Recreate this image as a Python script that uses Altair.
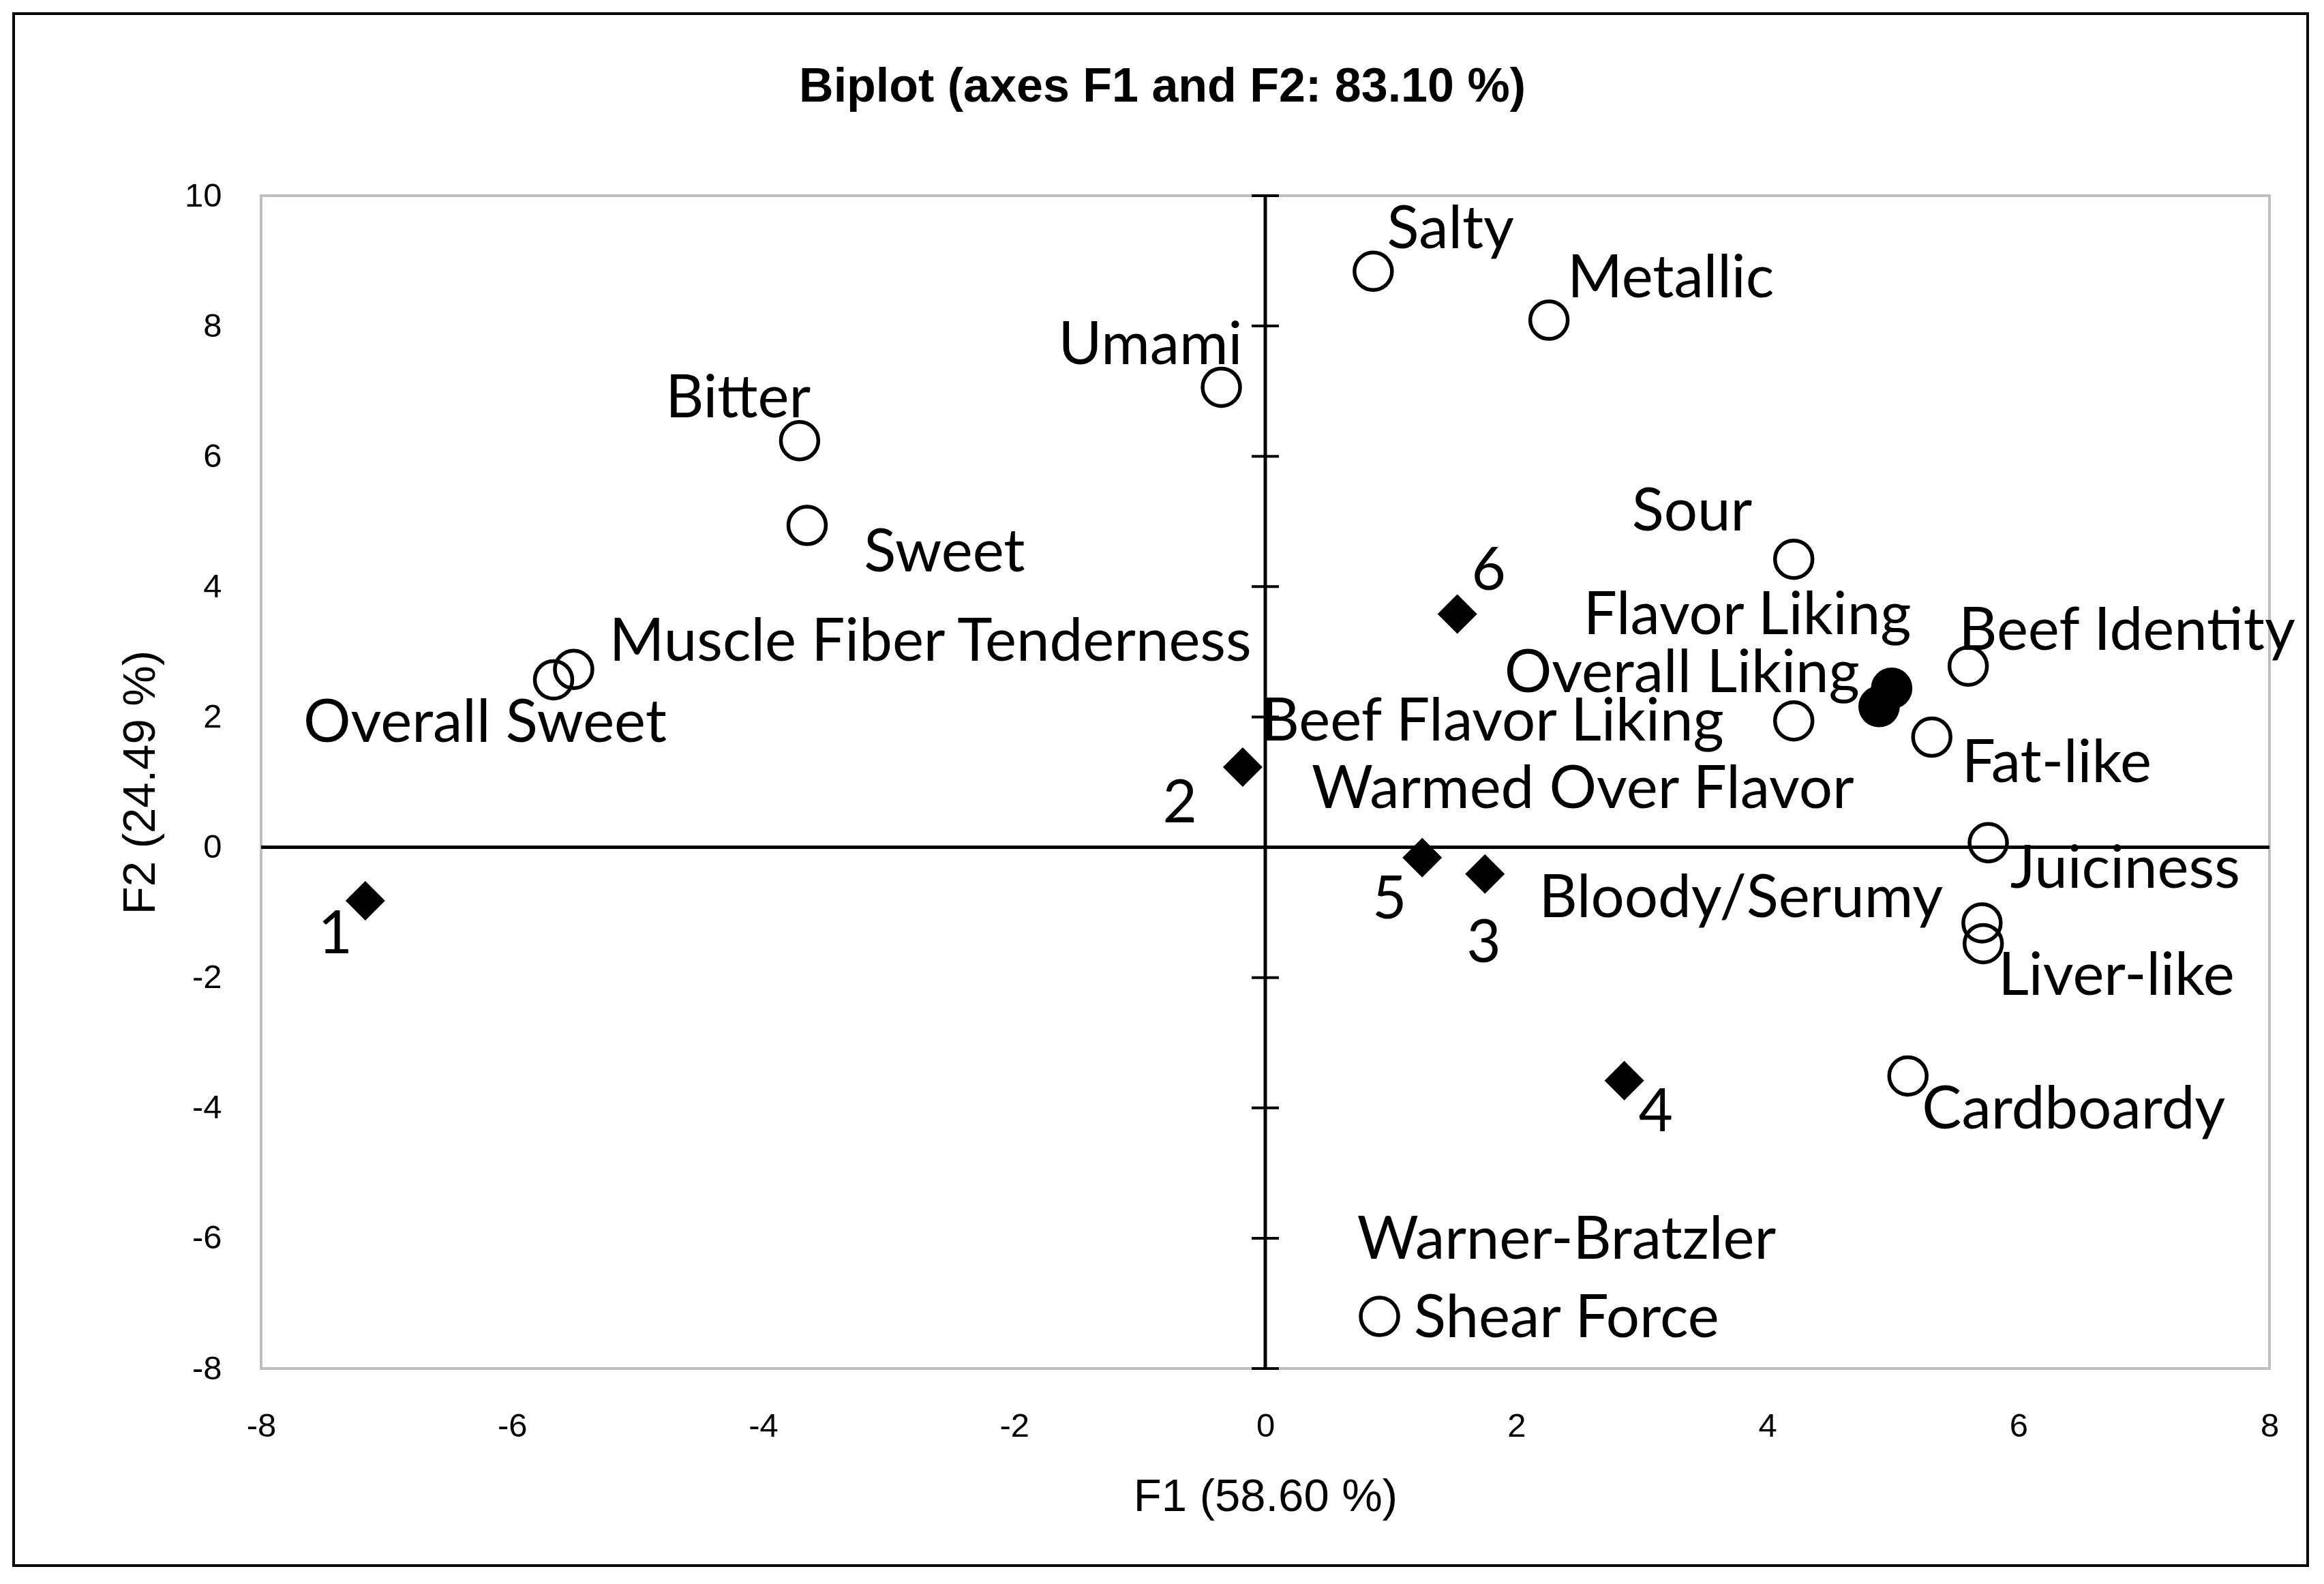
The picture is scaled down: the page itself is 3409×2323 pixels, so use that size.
import altair as alt
import pandas as pd

# ---- data ----
var_names = ["Salty", "Metallic", "Umami", "Bitter", "Sweet",
             "Muscle Fiber Tenderness", "Overall Sweet", "Sour",
             "Beef Flavor Liking", "Beef Identity", "Fat-like", "Juiciness",
             "Bloody/Serumy", "Liver-like", "Cardboardy",
             "Warner-Bratzler Shear Force"]
var_f1 = [0.86, 2.26, -0.35, -3.71, -3.65, -5.51, -5.67, 4.21,
          4.21, 5.60, 5.31, 5.76, 5.71, 5.72, 5.12, 0.91]
var_f2 = [8.84, 8.09, 7.06, 6.24, 4.94, 2.73, 2.57, 4.42,
          1.94, 2.78, 1.69, 0.07, -1.16, -1.48, -3.51, -7.20]

sup_names = ["Flavor Liking", "Overall Liking"]
sup_f1 = [4.99, 4.89]
sup_f2 = [2.44, 2.16]

obs_names = ["1", "2", "3", "4", "5", "6"]
obs_f1 = [-7.17, -0.18, 1.75, 2.86, 1.25, 1.53]
obs_f2 = [-0.82, 1.23, -0.41, -3.58, -0.16, 3.58]

label_text = ["Salty", "Metallic", "Umami", "Bitter", "Sweet",
              "Muscle Fiber Tenderness", "Overall Sweet", "Sour",
              "Flavor Liking", "Beef Identity", "Overall Liking",
              "Beef Flavor Liking", "Fat-like", "Warmed Over Flavor",
              "Juiciness", "Bloody/Serumy", "Liver-like", "Cardboardy",
              "Warner-Bratzler\nShear Force",
              "1", "2", "3", "4", "5", "6"]
label_f1 = [1.476, 3.23, -0.915, -4.20, -2.556, -2.668, -6.216, 3.40,
            3.84, 6.865, 3.32, 1.81, 6.305, 2.53, 6.85, 3.79, 6.78, 6.44,
            2.40,
            -7.41, -0.68, 1.74, 3.11, 0.99, 1.78]
label_f2 = [9.52, 8.77, 7.74, 6.92, 4.56, 3.19, 1.94, 5.19,
            3.60, 3.35, 2.71, 1.96, 1.32, 0.93, -0.30, -0.75, -1.94, -3.99,
            -5.99,
            -1.30, 0.71, -1.44, -4.03, -0.77, 4.28]

x_ticks = [-8, -6, -4, -2, 0, 2, 4, 6, 8]
y_ticks = [-8, -6, -4, -2, 0, 2, 4, 6, 8, 10]

title_text = "Biplot (axes F1 and F2: 83.10 %)"
x_title = "F1 (58.60 %)"
y_title = "F2 (24.49 %)"

# ---- tables ----
var_df = pd.DataFrame({"name": var_names, "F1": var_f1, "F2": var_f2})
sup_df = pd.DataFrame({"name": sup_names, "F1": sup_f1, "F2": sup_f2})
obs_df = pd.DataFrame({"name": obs_names, "F1": obs_f1, "F2": obs_f2})
lab_df = pd.DataFrame({"text": label_text, "F1": label_f1, "F2": label_f2})
ytick_df = pd.DataFrame({"v": y_ticks})
one_df = pd.DataFrame({"t": [title_text]})

W, H = 2946, 1720

xs = alt.Scale(domain=[-8, 8], nice=False, zero=False)
ys = alt.Scale(domain=[-8, 10], nice=False, zero=False)

lab_expr = "datum.value < 0 ? '-' + abs(datum.value) : '' + datum.value"

x_enc = alt.X("F1:Q", scale=xs, axis=alt.Axis(
    values=x_ticks, title=x_title, grid=False, domain=False, ticks=False,
    labelExpr=lab_expr, labelFlush=False, labelOverlap=False,
    labelFont="Liberation Sans", labelFontSize=49, labelColor="black",
    labelPadding=60, titleFont="Liberation Sans", titleFontSize=67,
    titleFontWeight="normal", titleColor="black", titleY=208,
    titleBaseline="alphabetic"))
y_enc = alt.Y("F2:Q", scale=ys, axis=alt.Axis(
    values=y_ticks, title=y_title, grid=False, domain=False, ticks=False,
    labelExpr=lab_expr, labelFlush=False, labelOverlap=False,
    labelFont="Liberation Sans", labelFontSize=49, labelColor="black",
    labelPadding=58, titleFont="Liberation Sans", titleFontSize=67,
    titleFontWeight="normal", titleColor="black", titleX=-157, titleY=860,
    titleAngle=-90, titleBaseline="alphabetic", titleAlign="center"))

frame = alt.Chart(one_df).mark_rect(
    fill="white", fillOpacity=0, stroke="black", strokeWidth=4
).encode(x=alt.value(-363), x2=alt.value(3002), y=alt.value(-267),
         y2=alt.value(2009))

title = alt.Chart(one_df).mark_text(
    font="Liberation Sans", fontSize=70, fontWeight="bold", color="black",
    align="center", baseline="middle"
).encode(text="t:N", x=alt.value(1322), y=alt.value(-159))

base_pts = alt.Chart(var_df).mark_point(
    shape="circle", filled=False, stroke="black", strokeWidth=5.5,
    size=3025, opacity=1
).encode(x=x_enc, y=y_enc)

vline = alt.Chart(one_df).mark_rule(color="black", strokeWidth=5).encode(
    x=alt.datum(0, scale=xs))
hline = alt.Chart(one_df).mark_rule(color="black", strokeWidth=5).encode(
    y=alt.datum(0, scale=ys))
vticks = alt.Chart(ytick_df).mark_tick(
    orient="horizontal", size=40, thickness=4, color="black", opacity=1
).encode(x=alt.datum(0, scale=xs), y=alt.Y("v:Q", scale=ys))

sup_pts = alt.Chart(sup_df).mark_point(
    shape="circle", filled=True, color="black", size=3700, opacity=1
).encode(x=alt.X("F1:Q", scale=xs), y=alt.Y("F2:Q", scale=ys))

obs_pts = alt.Chart(obs_df).mark_point(
    shape="diamond", filled=True, color="black", size=3364, opacity=1
).encode(x=alt.X("F1:Q", scale=xs), y=alt.Y("F2:Q", scale=ys))

labels = alt.Chart(lab_df).mark_text(
    font="Lato", fontSize=87, color="black", align="center",
    baseline="middle", dy=5, lineBreak="\n", lineHeight=115
).encode(x=alt.X("F1:Q", scale=xs), y=alt.Y("F2:Q", scale=ys), text="text:N")

chart = alt.layer(
    frame, base_pts, vline, hline, vticks, sup_pts, obs_pts, labels, title
).properties(
    width=W, height=H,
    autosize=alt.AutoSizeParams(type="none"),
    padding={"left": 375, "top": 279, "right": 72, "bottom": 300},
    background="white"
).configure_view(stroke="#BFBFBF", strokeWidth=4)

chart.save("out.html", embed_options={"renderer": "svg", "actions": False})
